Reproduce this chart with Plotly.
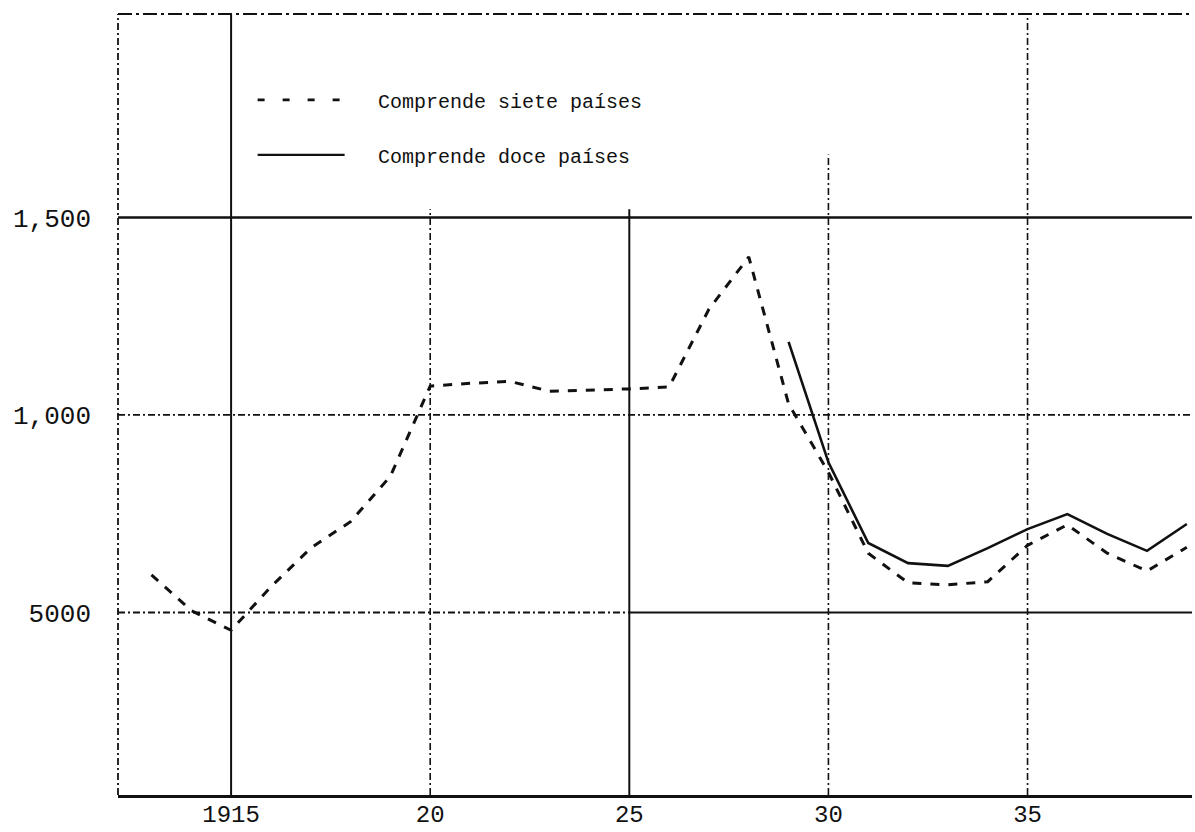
import plotly.graph_objects as go

# ---- data ----
years_siete = list(range(1913, 1940))
siete = [595, 505, 455, 565, 663, 730, 845, 1073, 1080, 1085, 1060, 1063, 1066, 1071,
         1268, 1400, 1028, 855, 650, 575, 570, 578, 670, 722, 650, 605, 665]

years_doce = list(range(1929, 1940))
doce = [1185, 880, 676, 625, 618, 663, 711, 749, 699, 656, 724]

x_tickvals = [1915, 1920, 1925, 1930, 1935]
x_ticktext = ["1915", "20", "25", "30", "35"]
y_tickvals = [500, 1000, 1500]
y_ticktext = ["5000", "1,000", "1,500"]

legend_siete = "Comprende siete países"
legend_doce = "Comprende doce países"

X_RANGE = [1912.16, 1939.13]
Y_RANGE = [38, 2015]

INK = "#111111"
FONT = "Liberation Mono, Courier New, monospace"
DASHDOT = "7px,3px,2px,3px"

fig = go.Figure()
fig.add_trace(go.Scatter(x=years_siete, y=siete, mode="lines",
                         line=dict(color=INK, width=3, dash="9px,9px"),
                         name=legend_siete, showlegend=False))
fig.add_trace(go.Scatter(x=years_doce, y=doce, mode="lines",
                         line=dict(color=INK, width=2.6),
                         name=legend_doce, showlegend=False))

shapes = []
# vertical grid lines (style per line as in the original)
vstyle = {1915: ("solid", 1.0), 1920: (DASHDOT, 0.75), 1925: ("solid", 0.75),
          1930: (DASHDOT, 0.82), 1935: (DASHDOT, 1.0)}
for xv in x_tickvals:
    dash, top = vstyle[xv]
    shapes.append(dict(type="line", xref="x", yref="paper", x0=xv, x1=xv, y0=0, y1=top,
                       line=dict(color=INK, width=2 if dash == "solid" else 1.6, dash=dash)))
# horizontal grid lines
shapes.append(dict(type="line", xref="paper", yref="y", x0=0, x1=1, y0=1500, y1=1500,
                   line=dict(color=INK, width=2.5)))
shapes.append(dict(type="line", xref="paper", yref="y", x0=0, x1=1, y0=1000, y1=1000,
                   line=dict(color=INK, width=1.8, dash=DASHDOT)))
shapes.append(dict(type="line", xref="x", yref="y", x0=X_RANGE[0], x1=1925, y0=500, y1=500,
                   line=dict(color=INK, width=1.8, dash=DASHDOT)))
shapes.append(dict(type="line", xref="x", yref="y", x0=1925, x1=X_RANGE[1], y0=500, y1=500,
                   line=dict(color=INK, width=2.2)))
# frame: left dash-dot, top dashed
shapes.append(dict(type="line", xref="paper", yref="paper", x0=0, x1=0, y0=0, y1=1,
                   line=dict(color=INK, width=1.8, dash=DASHDOT)))
shapes.append(dict(type="line", xref="paper", yref="paper", x0=0, x1=1, y0=1, y1=1,
                   line=dict(color=INK, width=2.2, dash="14px,4px,3px,4px")))
# legend samples
shapes.append(dict(type="line", xref="paper", yref="paper", x0=0.130, x1=0.211, y0=0.890, y1=0.890,
                   line=dict(color=INK, width=2.8, dash="7px,18px")))
shapes.append(dict(type="line", xref="paper", yref="paper", x0=0.130, x1=0.211, y0=0.8195, y1=0.8195,
                   line=dict(color=INK, width=2.2)))

annotations = [
    dict(xref="paper", yref="paper", x=0.240, y=0.887, text=legend_siete, showarrow=False,
         xanchor="left", yanchor="middle", font=dict(family=FONT, size=20, color=INK)),
    dict(xref="paper", yref="paper", x=0.240, y=0.8165, text=legend_doce, showarrow=False,
         xanchor="left", yanchor="middle", font=dict(family=FONT, size=20, color=INK)),
]

fig.update_layout(
    width=1195, height=832,
    margin=dict(l=118, r=3, t=14, b=37, autoexpand=False),
    paper_bgcolor="white", plot_bgcolor="white",
    shapes=shapes, annotations=annotations,
    showlegend=False,
    xaxis=dict(range=X_RANGE, tickvals=x_tickvals, ticktext=x_ticktext,
               showgrid=False, zeroline=False, showline=True, linecolor=INK, linewidth=2.5,
               ticks="", ticklabelstandoff=-5, automargin=False,
               tickfont=dict(family=FONT, size=24, color=INK)),
    yaxis=dict(range=Y_RANGE, tickvals=y_tickvals, ticktext=y_ticktext,
               showgrid=False, zeroline=False, showline=False, ticks="",
               ticklabelstandoff=26, automargin=False,
               tickfont=dict(family=FONT, size=26, color=INK)),
)

fig.write_html("out.html", config={"displayModeBar": False},
               post_script="document.body.style.margin='0';document.body.style.overflow='hidden';")
